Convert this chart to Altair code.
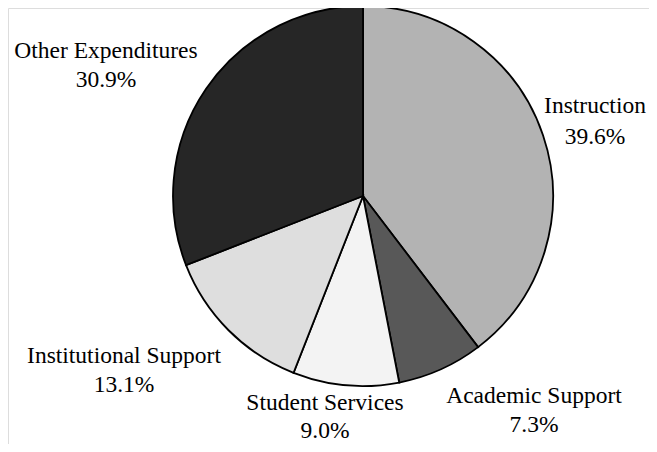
import altair as alt
import pandas as pd

categories = ["Instruction", "Academic Support", "Student Services",
              "Institutional Support", "Other Expenditures"]
shares = [39.6, 7.3, 9.0, 13.1, 30.9]
fills = ["#b3b3b3", "#585858", "#f3f3f3", "#dedede", "#262626"]

# label layout (pixels within the chart): centre x, baseline of name, baseline of percentage
label_x = [587, 526, 317, 116, 98]
name_base = [105, 395, 402, 355, 50]
pct_base = [136, 424, 430, 384, 79]

df = pd.DataFrame({
    "category": categories,
    "share": shares,
    "order": list(range(len(categories))),
})
labels = pd.DataFrame({
    "category": categories,
    "pct": [f"{v:.1f}%" for v in shares],
    "lx": label_x,
    "ly": name_base,
    "ly2": pct_base,
})

pie = alt.Chart(df).mark_arc(
    outerRadius=190, stroke="black", strokeWidth=1.8
).encode(
    theta=alt.Theta("share:Q", stack=True),
    order=alt.Order("order:Q"),
    color=alt.Color("category:N", scale=alt.Scale(domain=categories, range=fills), legend=None),
    x=alt.value(355),
    y=alt.value(188),
)

base_text = dict(font="Liberation Serif", fontSize=23.5, color="black",
                 align="center", baseline="alphabetic")

names = alt.Chart(labels).mark_text(**base_text).encode(
    x=alt.X("lx:Q", scale=None),
    y=alt.Y("ly:Q", scale=None),
    text="category:N",
)
pcts = alt.Chart(labels).mark_text(**base_text).encode(
    x=alt.X("lx:Q", scale=None),
    y=alt.Y("ly2:Q", scale=None),
    text="pct:N",
)

chart = alt.layer(pie, names, pcts).properties(
    width=641, height=436, padding=0, autosize=alt.AutoSizeParams(type="none")
).configure_view(stroke=None).configure(background="white")

chart.save("out.html", embed_options={"renderer": "svg", "actions": False})
